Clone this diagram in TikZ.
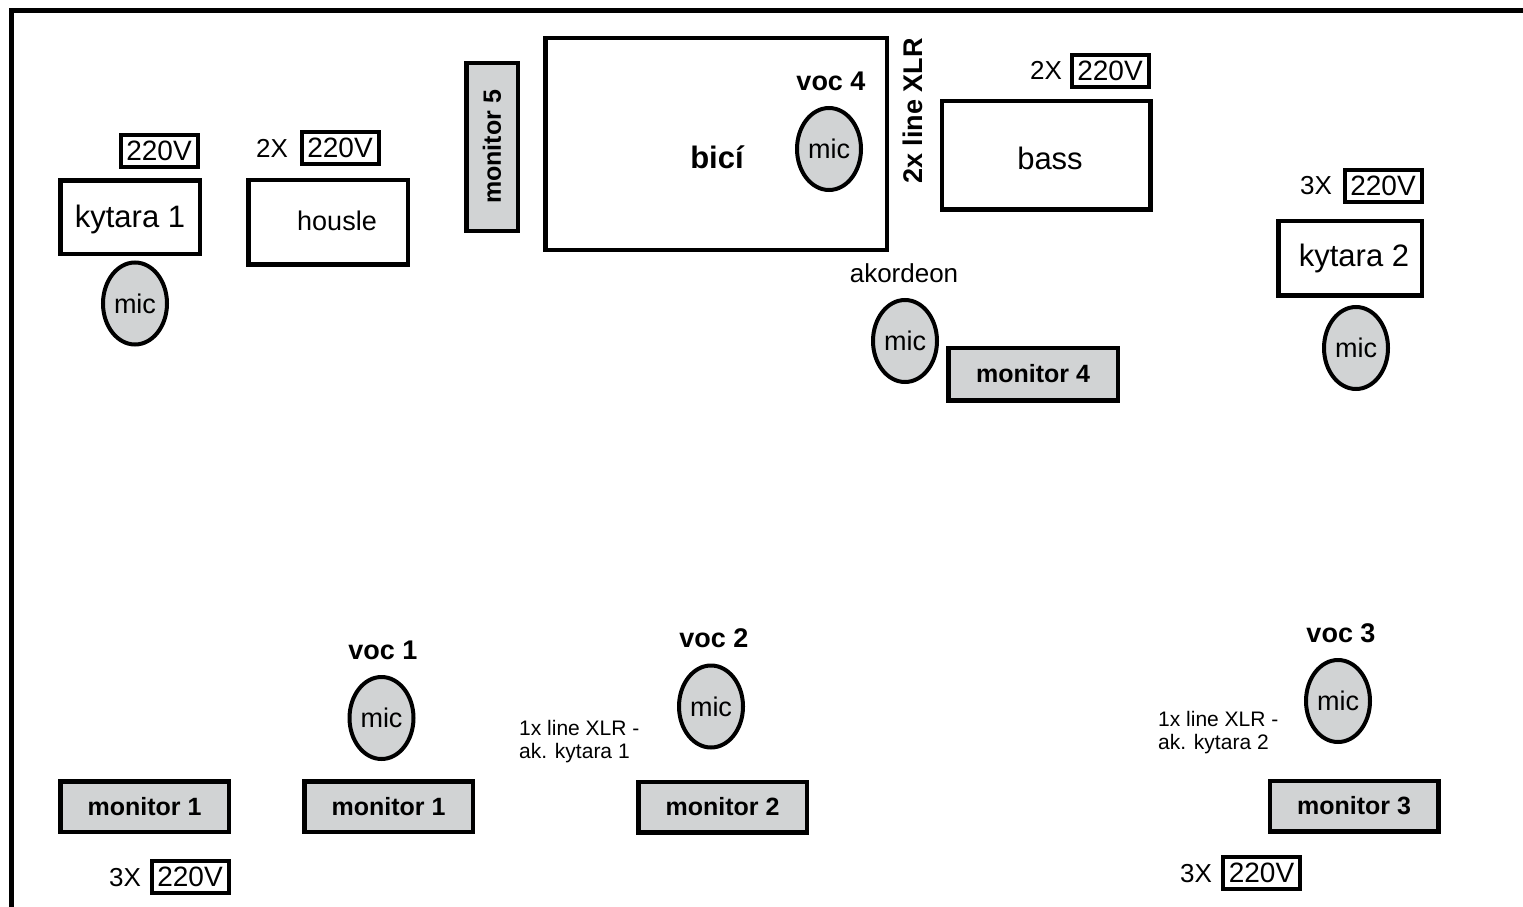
\documentclass[tikz,border=0pt]{standalone}
\usepackage{fontspec}
\setmainfont{Liberation Sans}
\usetikzlibrary{shapes.geometric}
\definecolor{mgrey}{RGB}{209,211,212}
\begin{document}
\begin{tikzpicture}[x=1pt,y=-1pt,
  box/.style={draw, line width=4.5pt, inner sep=0pt, rectangle},
  mon/.style={box, fill=mgrey, font=\fontsize{25}{28}\selectfont\bfseries},
  bmon/.style={mon, minimum width=168.5pt, minimum height=50.5pt},
  mic/.style={ellipse, draw, fill=mgrey, line width=4pt, inner sep=0pt, minimum width=64pt, minimum height=82pt, font=\fontsize{27}{29}\selectfont},
  pw/.style={box, line width=4pt, minimum width=77pt, minimum height=32pt, font=\fontsize{28}{30}\selectfont},
  txt/.style={inner sep=0pt, font=\fontsize{26}{28}\selectfont},
  big/.style={inner sep=0pt, font=\fontsize{31}{33}\selectfont},
  btxt/.style={inner sep=0pt, font=\fontsize{27}{29}\selectfont\bfseries},
  note/.style={anchor=west, align=left, inner sep=0pt, font=\fontsize{21}{23}\selectfont},
]
\useasboundingbox (0,0) rectangle (1523,907);
\fill[white] (0,0) rectangle (1523,907);
\coordinate (fb) at (11,907);
\coordinate (fc) at (11,11);
\coordinate (fr) at (1523,11);
\draw[line width=5pt] (fb) -- (fc) -- (fr);

% kytara 1
\node[pw] (p1) at (159,151) {220V};
\node[box, minimum width=139.5pt, minimum height=73.5pt] (k1) at (130,217) {};
\node[big] (k1t) at (130,219) {kytara 1};
\node[mic] (m1) at (135,303.5) {mic};

% housle
\node[txt] (x2a) at (272,148) {2X};
\node[pw] (p2) at (340,148) {220V};
\node[box, minimum width=159.5pt, minimum height=84.5pt] (hs) at (328,222) {};
\node[txt, font=\fontsize{27}{29}\selectfont] (hst) at (337,221) {housle};

% monitor 5
\node[mon, rotate=90, minimum width=167.5pt, minimum height=51.5pt] (mon5) at (492,147) {monitor 5};

% bici
\node[box, minimum width=341.5pt, minimum height=211.5pt] (bici) at (716,144) {};
\node[btxt, font=\fontsize{31}{33}\selectfont\bfseries] (bicit) at (717,157) {bicí};
\node[btxt] (v4) at (831,81) {voc 4};
\node[mic] (m4) at (829,149) {mic};
\node[btxt, rotate=90] (xlr) at (913,111) {2x line XLR};

% bass
\node[txt] (x2b) at (1046,70) {2X};
\node[pw] (p3) at (1110,71) {220V};
\node[box, minimum width=208.5pt, minimum height=108.5pt] (bass) at (1046,155) {};
\node[big] (basst) at (1050,158) {bass};

% kytara 2
\node[txt] (x3a) at (1316,186) {3X};
\node[pw] (p4) at (1383,186) {220V};
\node[box, minimum width=143.5pt, minimum height=74.5pt] (k2) at (1350,258) {};
\node[big] (k2t) at (1354,258) {kytara 2};
\node[mic] (m5) at (1356,348) {mic};

% akordeon
\node[txt] (ak) at (904,273) {akordeon};
\node[mic] (m6) at (905,341) {mic};
\node[mon, minimum width=169.5pt, minimum height=52.5pt] (mon4) at (1033,374) {monitor 4};

% bottom row
\node[bmon] (mon1a) at (144.5,806.5) {monitor 1};
\node[txt] (x3b) at (125,878) {3X};
\node[pw] (p5) at (190,876.5) {220V};

\node[btxt] (v1) at (383,650) {voc 1};
\node[mic] (m7) at (381.5,718) {mic};
\node[bmon] (mon1b) at (388.5,806.5) {monitor 1};

\node[note] (n1) at (519,742) {1x line XLR -\\ak. kytara 1};
\node[btxt] (v2) at (714,638) {voc 2};
\node[mic] (m8) at (711,706.5) {mic};
\node[bmon] (mon2) at (722.5,807) {monitor 2};

\node[note] (n2) at (1158,733) {1x line XLR -\\ak. kytara 2};
\node[btxt] (v3) at (1341,633) {voc 3};
\node[mic] (m9) at (1338,701) {mic};
\node[bmon] (mon3) at (1354,806) {monitor 3};
\node[txt] (x3c) at (1196,874) {3X};
\node[pw] (p6) at (1261.5,873) {220V};
\end{tikzpicture}
\end{document}
